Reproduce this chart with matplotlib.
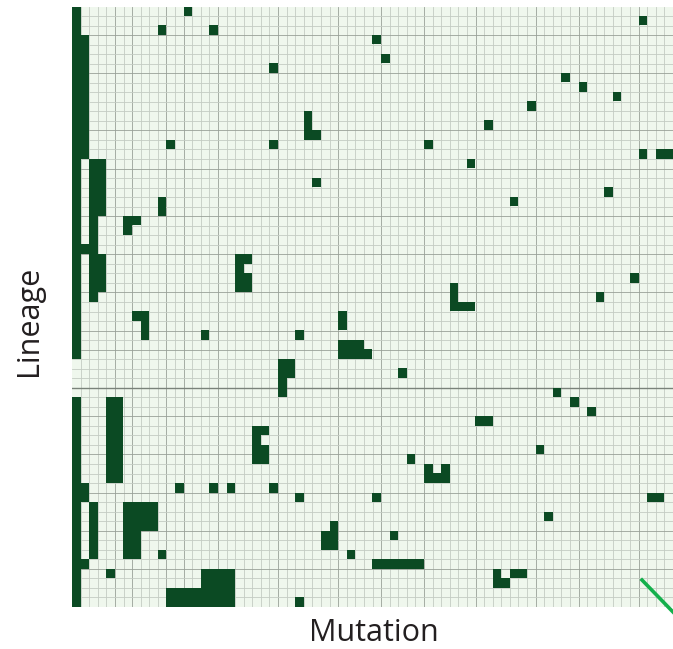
import numpy as np
import matplotlib.pyplot as plt
from matplotlib.colors import ListedColormap
from matplotlib.lines import Line2D

n_lineages = 63
n_mutations = 70

# blocks of present mutations: (first lineage, last lineage), (first mutation, last mutation)
span_lineages = [(0, 36), (41, 62), (3, 15), (25, 25), (16, 30), (16, 21), (26, 29),
                 (50, 51), (52, 57), (58, 58), (41, 49), (0, 0), (2, 2), (2, 2),
                 (14, 14), (20, 21), (22, 23), (22, 22), (26, 29), (26, 26), (28, 29),
                 (32, 32), (32, 34), (34, 34), (3, 3), (5, 5), (6, 6), (11, 13),
                 (13, 13), (14, 14), (14, 14), (16, 16), (18, 18), (1, 1), (7, 7),
                 (8, 8), (9, 9), (10, 10), (12, 12), (15, 15), (15, 15), (19, 19),
                 (20, 20), (28, 28), (30, 30), (29, 31), (31, 31), (32, 33), (34, 34),
                 (35, 35), (36, 36), (38, 38), (37, 38), (39, 40), (40, 40), (41, 41),
                 (42, 42), (43, 43), (46, 46), (51, 51), (53, 53), (59, 60), (60, 60),
                 (59, 59), (50, 50), (50, 50), (50, 50), (52, 54), (55, 57), (57, 57),
                 (59, 59), (59, 62), (61, 62), (44, 47), (44, 44), (46, 47), (50, 50),
                 (51, 51), (51, 51), (47, 47), (48, 48), (48, 48), (49, 49), (54, 56),
                 (55, 56), (55, 55), (57, 57), (58, 58), (62, 62)]
span_mutations = [(0, 0), (0, 0), (1, 1), (1, 1), (2, 2), (3, 3), (3, 3),
                  (1, 1), (2, 2), (1, 1), (4, 5), (13, 13), (10, 10), (16, 16),
                  (11, 11), (10, 10), (6, 6), (7, 7), (19, 19), (20, 20), (20, 20),
                  (7, 7), (8, 8), (15, 15), (35, 35), (36, 36), (23, 23), (27, 27),
                  (28, 28), (23, 23), (41, 41), (46, 46), (28, 28), (66, 66), (57, 57),
                  (59, 59), (63, 63), (53, 53), (48, 48), (66, 66), (68, 69), (62, 62),
                  (51, 51), (65, 65), (61, 61), (44, 44), (45, 46), (31, 31), (26, 26),
                  (31, 33), (31, 34), (38, 38), (24, 25), (24, 24), (56, 56), (58, 58),
                  (60, 60), (47, 48), (54, 54), (67, 68), (55, 55), (49, 49), (50, 50),
                  (51, 52), (12, 12), (16, 16), (18, 18), (6, 9), (6, 7), (10, 10),
                  (4, 4), (15, 18), (11, 14), (21, 21), (22, 22), (22, 22), (23, 23),
                  (26, 26), (35, 35), (39, 39), (41, 41), (43, 43), (41, 43), (30, 30),
                  (29, 29), (37, 37), (32, 32), (35, 40), (26, 26)]

dark_rows = [3, 7, 13, 17, 22, 26, 30, 34, 36, 43, 47, 51, 55, 59]
dark_cols = [5, 7, 11, 13, 17, 24, 31, 36, 41, 47, 54, 59, 66]
group_split = 40

M = np.zeros((n_lineages, n_mutations))
for (r0, r1), (c0, c1) in zip(span_lineages, span_mutations):
    M[r0:r1 + 1, c0:c1 + 1] = 1

fig = plt.figure(figsize=(6.73, 6.49), dpi=100)
ax = fig.add_axes([72 / 673, 1 - 607 / 649, 1 - 72 / 673, 600.5 / 649])
ax.set_facecolor("#eff7ed")

# grid first, filled cells on top
for c in range(1, n_mutations):
    col = "#98a097" if c in dark_cols else "#c3cbc2"
    ax.axvline(c, color=col, lw=0.6, zorder=1)
for r in range(1, n_lineages):
    col = "#98a097" if r in dark_rows else "#c3cbc2"
    ax.axhline(r, color=col, lw=0.6, zorder=1)
ax.axhline(group_split, color="#7a827a", lw=1.0, zorder=2)

ax.imshow(np.ma.masked_equal(M, 0), cmap=ListedColormap(["#0b4a23"]), aspect="auto",
          interpolation="nearest", extent=(0, n_mutations, n_lineages, 0), zorder=3)

ax.set_xlim(0, n_mutations)
ax.set_ylim(n_lineages, 0)
ax.set_xticks([])
ax.set_yticks([])
for s in ax.spines.values():
    s.set_visible(False)

fig.text(374 / 673, 1 - 633 / 649, "Mutation", ha="center", va="center",
         fontsize=22, family="Open Sans", color="#231f20")
fig.text(29 / 673, 1 - 321 / 649, "Lineage", ha="center", va="center",
         rotation=90, fontsize=22, family="Open Sans", color="#231f20")

fig.add_artist(Line2D([642 / 673, 1.0], [1 - 580 / 649, 1 - 612 / 649],
                      color="#14b04c", lw=2.6, transform=fig.transFigure))

fig.savefig("out.png", dpi=100)
